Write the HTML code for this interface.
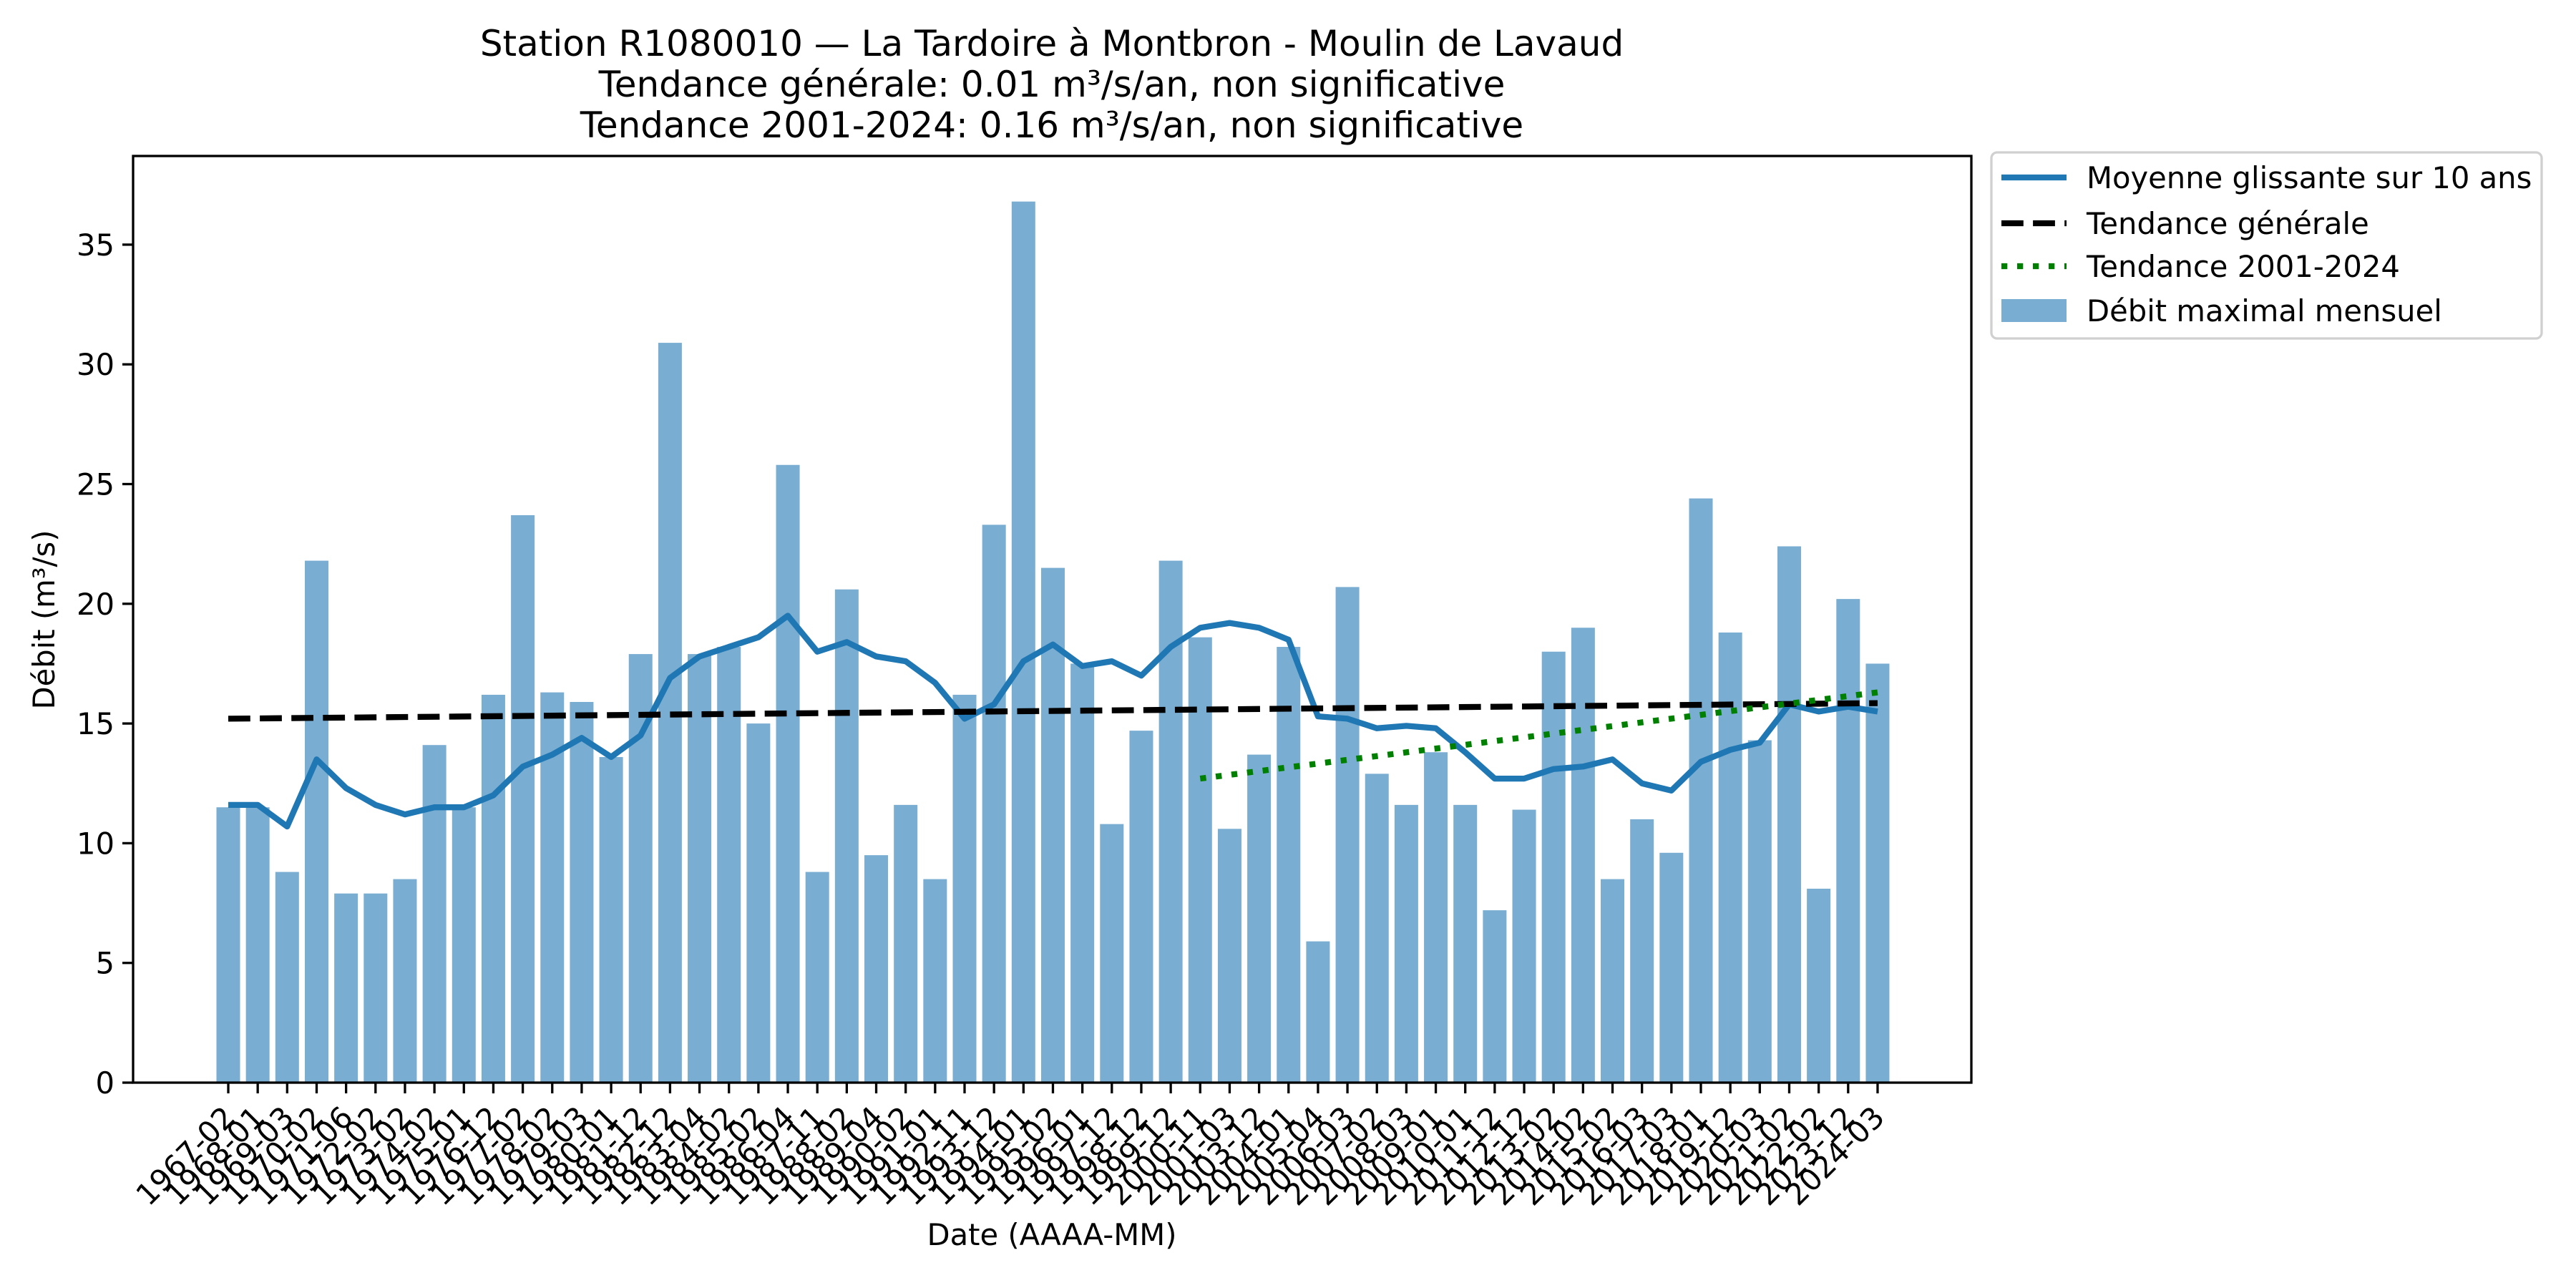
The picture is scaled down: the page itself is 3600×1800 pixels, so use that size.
<!DOCTYPE html>
<html><head><meta charset="utf-8"><style>
html,body{margin:0;padding:0;background:#fff;}
svg{display:block;font-family:"DejaVu Sans","Liberation Sans",sans-serif;}
</style></head><body>
<svg id="c" width="3600" height="1800" xmlns="http://www.w3.org/2000/svg">
<rect width="3600" height="1800" fill="#fff"/>
<g font-size="50" text-anchor="middle" fill="#000">
<text x="1470" y="78">Station R1080010 — La Tardoire à Montbron - Moulin de Lavaud</text>
<text x="1470" y="135">Tendance générale: 0.01 m³/s/an, non significative</text>
<text x="1470" y="192">Tendance 2001-2024: 0.16 m³/s/an, non significative</text>
</g>
<g id="bars"></g>
<g id="lines"></g>
<rect x="186" y="218" width="2569" height="1295" fill="none" stroke="#000" stroke-width="3.3"/>
<g id="ticks"></g>
<text x="1470" y="1740" font-size="41.7" text-anchor="middle">Date (AAAA-MM)</text>
<text transform="translate(76,866) rotate(-90)" font-size="41.7" text-anchor="middle">Débit (m³/s)</text>
<g>
<rect x="2783" y="213" width="769" height="260" rx="8" fill="#fff" stroke="#d0d0d0" stroke-width="3.3"/>
<line x1="2797" y1="248" x2="2888" y2="248" stroke="#1f77b4" stroke-width="8.3"/>
<line x1="2797" y1="312" x2="2888" y2="312" stroke="#000" stroke-width="8.3" stroke-dasharray="30.8,13.3"/>
<line x1="2797" y1="372" x2="2888" y2="372" stroke="#008000" stroke-width="8.3" stroke-dasharray="8.3,13.7"/>
<rect x="2797" y="418" width="91" height="32" fill="#1f77b4" fill-opacity="0.6"/>
<g font-size="41.7">
<text x="2916" y="263">Moyenne glissante sur 10 ans</text>
<text x="2916" y="327">Tendance générale</text>
<text x="2916" y="387">Tendance 2001-2024</text>
<text x="2916" y="449">Débit maximal mensuel</text>
</g>
</g>
</svg>
<script>
var NS="http://www.w3.org/2000/svg";
var vals=[11.5,11.5,8.8,21.8,7.9,7.9,8.5,14.1,11.5,16.2,23.7,16.3,15.9,13.6,17.9,30.9,17.9,18.2,15.0,25.8,8.8,20.6,9.5,11.6,8.5,16.2,23.3,36.8,21.5,17.5,10.8,14.7,21.8,18.6,10.6,13.7,18.2,5.9,20.7,12.9,11.6,13.8,11.6,7.2,11.4,18.0,19.0,8.5,11.0,9.6,24.4,18.8,14.3,22.4,8.1,20.2,17.5];
var ma=[11.6,11.6,10.7,13.5,12.3,11.6,11.2,11.5,11.5,12.0,13.2,13.7,14.4,13.6,14.5,16.9,17.8,18.2,18.6,19.5,18.0,18.4,17.8,17.6,16.7,15.2,15.8,17.6,18.3,17.4,17.6,17.0,18.2,19.0,19.2,19.0,18.5,15.3,15.2,14.8,14.9,14.8,13.8,12.7,12.7,13.1,13.2,13.5,12.5,12.2,13.4,13.9,14.2,15.8,15.5,15.7,15.5];
var labels=["1967-02","1968-01","1969-03","1970-02","1971-06","1972-02","1973-02","1974-02","1975-01","1976-12","1977-02","1978-02","1979-03","1980-01","1981-12","1982-12","1983-04","1984-02","1985-02","1986-04","1987-11","1988-02","1989-04","1990-02","1991-01","1992-11","1993-12","1994-01","1995-02","1996-01","1997-12","1998-12","1999-12","2000-11","2001-03","2003-12","2004-01","2005-04","2006-03","2007-02","2008-03","2009-01","2010-01","2011-12","2012-12","2013-02","2014-02","2015-02","2016-03","2017-03","2018-01","2019-12","2020-03","2021-02","2022-02","2023-12","2024-03"];
function X(i){return 319+i*41.16;}
function Y(v){return 1513-v*33.46;}
function el(t,a,p){var e=document.createElementNS(NS,t);for(var k in a)e.setAttribute(k,a[k]);p.appendChild(e);return e;}
var bars=document.getElementById("bars"),lines=document.getElementById("lines"),ticks=document.getElementById("ticks");
vals.forEach(function(v,i){el("rect",{x:X(i)-16.5,y:Y(v),width:33,height:v*33.46,fill:"#1f77b4","fill-opacity":0.6},bars);});
var pts=ma.map(function(v,i){return X(i).toFixed(1)+","+Y(v).toFixed(1);}).join(" ");
el("polyline",{points:pts,fill:"none",stroke:"#1f77b4","stroke-width":8.3,"stroke-linejoin":"round"},lines);
el("line",{x1:X(0),y1:Y(15.2),x2:X(56),y2:Y(15.85),stroke:"#000","stroke-width":8.3,"stroke-dasharray":"30.8,13.3"},lines);
el("line",{x1:X(33),y1:Y(12.7),x2:X(56),y2:Y(16.3),stroke:"#008000","stroke-width":8.3,"stroke-dasharray":"8.3,13.7"},lines);
for(var i=0;i<57;i++){
 el("line",{x1:X(i),y1:1513,x2:X(i),y2:1528,stroke:"#000","stroke-width":3.3},ticks);
 var t=el("text",{x:0,y:0,"font-size":41.7,"text-anchor":"end",transform:"translate("+(X(i)+12)+",1564) rotate(-45)"},ticks);
 t.textContent=labels[i];
}
for(var v=0;v<=35;v+=5){
 el("line",{x1:171,y1:Y(v),x2:186,y2:Y(v),stroke:"#000","stroke-width":3.3},ticks);
 var t=el("text",{x:160,y:Y(v)+15,"font-size":41.7,"text-anchor":"end"},ticks);
 t.textContent=v;
}
</script>
</body></html>
